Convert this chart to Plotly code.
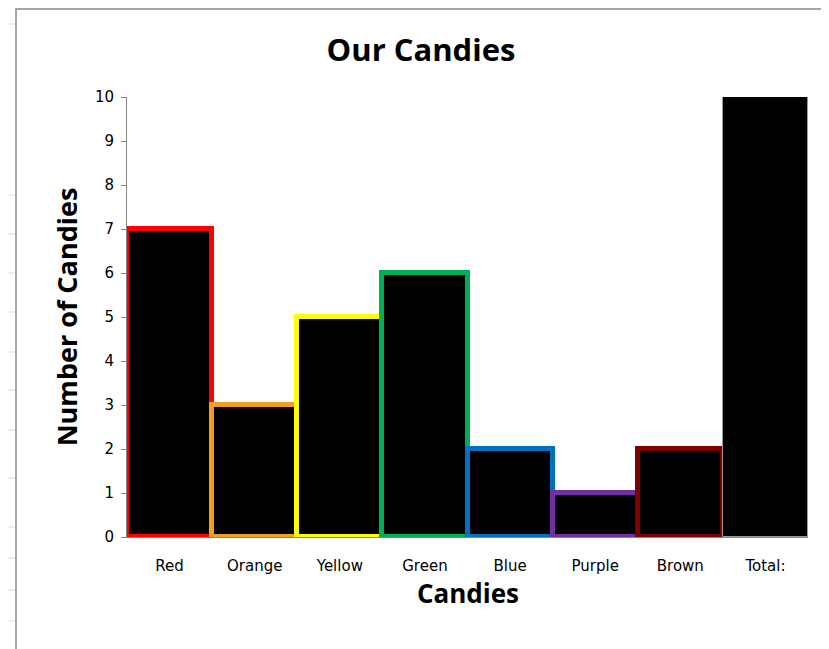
import plotly.graph_objects as go

# candy counts
candies = ['Red', 'Orange', 'Yellow', 'Green', 'Blue', 'Purple', 'Brown', 'Total:']
counts = [7, 3, 5, 6, 2, 1, 2, 26]
outline_colors = ['#FF0000', '#F0A01E', '#FFFF00', '#00B050', '#0070C0', '#7030A0', '#800000', '#9A9A9A']
outline_widths = [5, 5, 5, 5, 5, 5, 5, 1]
y_ticks = list(range(0, 11))

# page has an 8px body margin, so the figure starts at (8, 8)
OFF = 8
W, H = 829 - OFF, 649 - OFF
L, R, T, B = 127 - OFF, 808 - OFF, 97 - OFF, 537 - OFF  # plot area, figure pixels


def px_x(p):
    # screen pixel -> paper fraction
    return (p - OFF - L) / (R - L)


def px_y(p):
    return (B - (p - OFF)) / (B - T)


fig = go.Figure(go.Bar(
    x=candies,
    y=counts,
    width=1,
    marker=dict(color='black', line=dict(color=outline_colors, width=outline_widths)),
    hoverinfo='x+y',
))

# spreadsheet grid behind the chart object
grid = '#D9D9D9'
shapes = []
for gx in [67, 168, 268, 369, 469, 569, 669, 769]:
    shapes.append(dict(type='line', xref='paper', yref='paper', layer='below',
                       x0=px_x(gx), x1=px_x(gx), y0=px_y(0), y1=px_y(9),
                       line=dict(color=grid, width=1)))
for gy in [24, 195, 234, 273, 312, 352, 390, 430, 478, 527, 558, 590, 621]:
    shapes.append(dict(type='line', xref='paper', yref='paper', layer='below',
                       x0=px_x(0), x1=px_x(15), y0=px_y(gy), y1=px_y(gy),
                       line=dict(color=grid, width=1)))
# chart area border
shapes.append(dict(type='rect', xref='paper', yref='paper', layer='below',
                   x0=px_x(16), x1=px_x(840), y0=px_y(9), y1=px_y(660),
                   line=dict(color='#A6A6A6', width=2), fillcolor='white'))

fig.update_layout(
    width=W,
    height=H,
    margin=dict(l=L, r=W - R, t=T, b=H - B),
    paper_bgcolor='white',
    plot_bgcolor='#E6E6E6',
    bargap=0,
    showlegend=False,
    shapes=shapes,
    title=dict(text='<b>Our Candies</b>', xref='paper', x=px_x(421), xanchor='center',
               yref='container', y=1 - (50 - OFF) / H, yanchor='middle',
               font=dict(family='Open Sans', size=31, color='black')),
    annotations=[dict(text='<b>Candies</b>', xref='paper', yref='paper',
                      x=px_x(468), y=px_y(593), xanchor='center', yanchor='middle',
                      showarrow=False,
                      font=dict(family='Open Sans', size=26, color='black'))],
    xaxis=dict(
        showgrid=False, zeroline=False,
        showline=True, linecolor='#868686', linewidth=1,
        ticks='', tickfont=dict(family='DejaVu Sans', size=15, color='black'),
        ticklabelstandoff=15,
    ),
    yaxis=dict(
        range=[0, 10], tickvals=y_ticks,
        showgrid=False, zeroline=False,
        showline=True, linecolor='#868686', linewidth=1,
        ticks='outside', ticklen=5, tickcolor='#868686',
        tickfont=dict(family='DejaVu Sans', size=15, color='black'),
        ticklabelstandoff=4,
        title=dict(text='<b>Number of Candies</b>', standoff=9,
                   font=dict(family='Open Sans', size=27, color='black')),
    ),
)

fig.write_html('out.html')
